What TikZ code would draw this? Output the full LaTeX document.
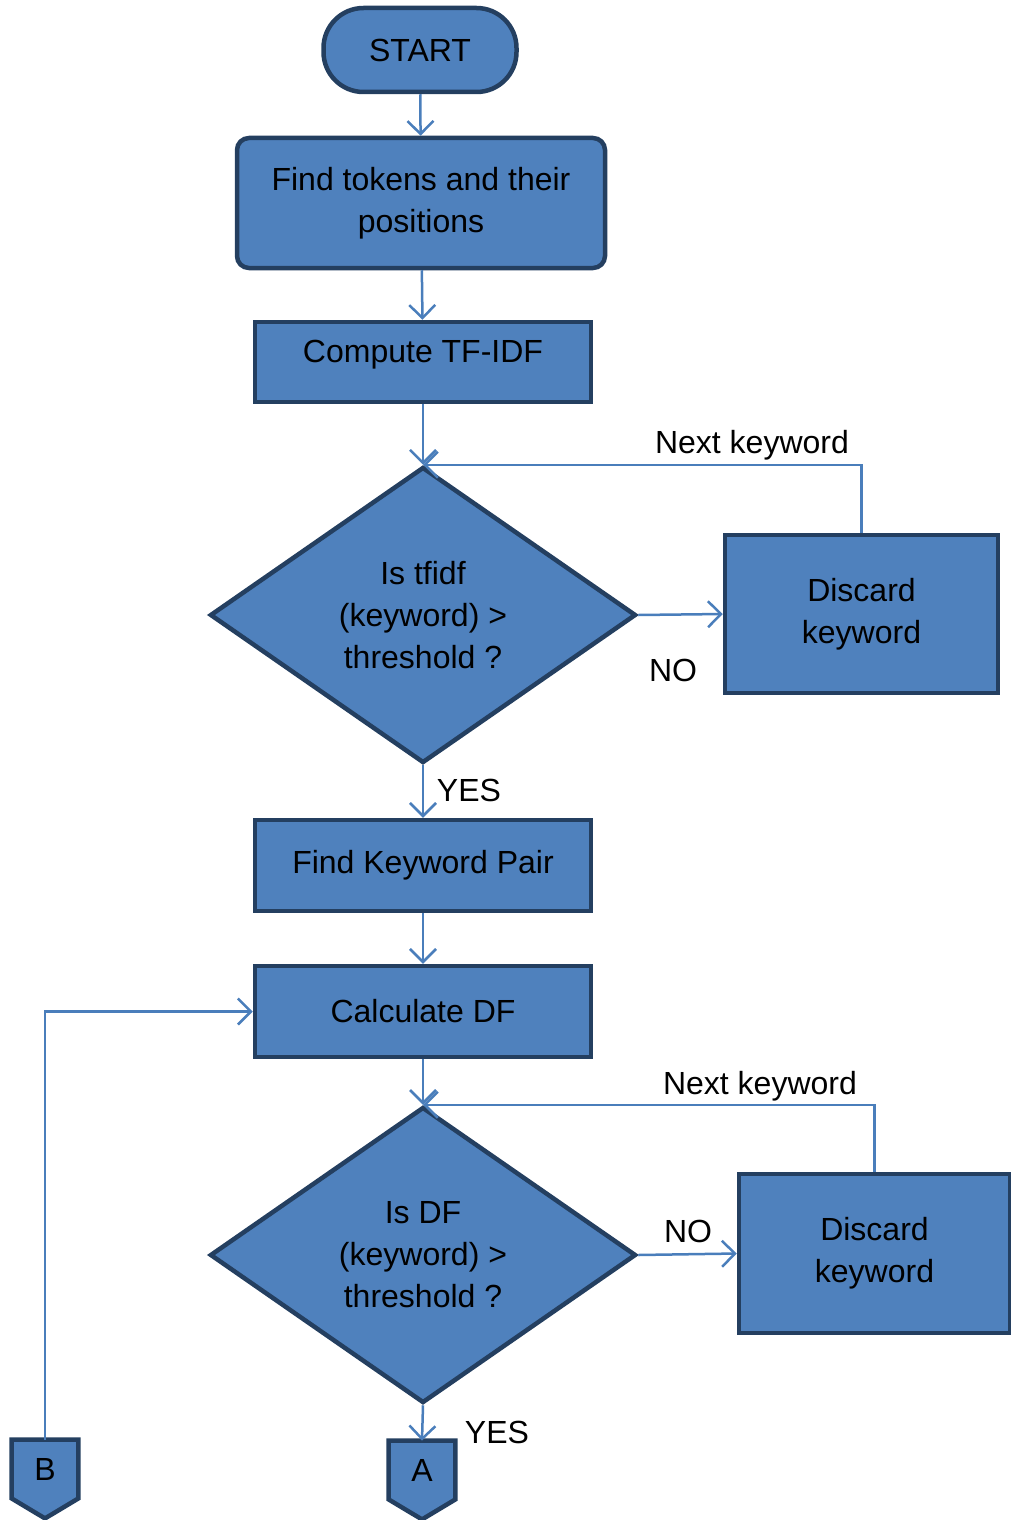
\documentclass[tikz,border=0pt]{standalone}
\usepackage{fontspec}
\setmainfont{Liberation Sans}
\usetikzlibrary{arrows.meta,shapes.geometric,backgrounds}
\definecolor{boxblue}{HTML}{4F81BD}
\definecolor{edgeblue}{HTML}{243F60}
\definecolor{linkblue}{HTML}{4A7EBB}
\tikzset{x=0.5pt, y=-0.5pt,
    every node/.style={font=\fontsize{16}{21}\selectfont, align=center, inner sep=0pt},
    stepbox/.style={draw=edgeblue, fill=boxblue, line width=2.25pt},
    decbox/.style={stepbox, diamond, minimum width=213pt, minimum height=148pt},
    pagebox/.style={minimum width=33pt, minimum height=29pt},
    flow/.style={draw=linkblue, line width=1.25pt,
        -{Straight Barb[length=6.5pt,width=13pt]}},
    }
\begin{document}
\begin{tikzpicture}
\useasboundingbox (0,0) rectangle (1011,1520);
% steps
\node[stepbox, rounded corners=20pt, minimum width=96.5pt, minimum height=42pt] (start) at (420,50) {START};
\node[stepbox, rounded corners=6pt, minimum width=184pt, minimum height=65pt] (tokens) at (421,203) {Find tokens and their\\positions};
\node[stepbox, minimum width=168pt, minimum height=40pt, text height=11.5pt, text depth=11pt] (tfidf) at (423,362) {Compute TF-IDF};
\node[decbox] (dec1) at (423,615) {Is tfidf\\(keyword) >\\threshold ?};
\node[stepbox, minimum width=136.5pt, minimum height=79pt] (drop1) at (861.5,614) {Discard\\keyword};
\node[stepbox, minimum width=168pt, minimum height=45.5pt] (pair) at (423,865.5) {Find Keyword Pair};
\node[stepbox, minimum width=168pt, minimum height=45.5pt] (df) at (423,1011.5) {Calculate DF};
\node[decbox] (dec2) at (423,1255) {Is DF\\(keyword) >\\threshold ?};
\node[stepbox, minimum width=135.5pt, minimum height=79.5pt] (drop2) at (874.5,1253.5) {Discard\\keyword};
% off-page connectors
\node[pagebox] (offA) at (422,1470) {A};
\node[pagebox] (offB) at (45,1469) {B};
\begin{pgfonlayer}{background}
\foreach \pg in {offA,offB}
  \draw[stepbox] (\pg.north west) -- (\pg.north east) -- (\pg.south east)
    -- ([yshift=-10pt]\pg.south) -- (\pg.south west) -- cycle;
\end{pgfonlayer}
% flow lines
\draw[flow] (start) -- (tokens);
\draw[flow] (tokens) -- (tfidf);
\draw[flow] (tfidf) -- (dec1.north);
\draw[flow] (dec1.east) -- (drop1.west);
\draw[flow] (drop1.north) |- (dec1.north);
\draw[flow] (dec1.south) -- (pair.north);
\draw[flow] (pair) -- (df);
\draw[flow] (df) -- (dec2.north);
\draw[flow] (dec2.east) -- (drop2.west);
\draw[flow] (drop2.north) |- (dec2.north);
\draw[flow] (dec2.south) -- (offA.north);
\draw[flow] (offB.north) |- (df.west);
% labels
\node (no1) at (673,670) {NO};
\node (next1) at (752,445) {Next keyword};
\node (yes1) at (469,790) {YES};
\node (no2) at (688,1231) {NO};
\node (next2) at (760,1086) {Next keyword};
\node (yes2) at (497,1432) {YES};
\end{tikzpicture}
\end{document}
